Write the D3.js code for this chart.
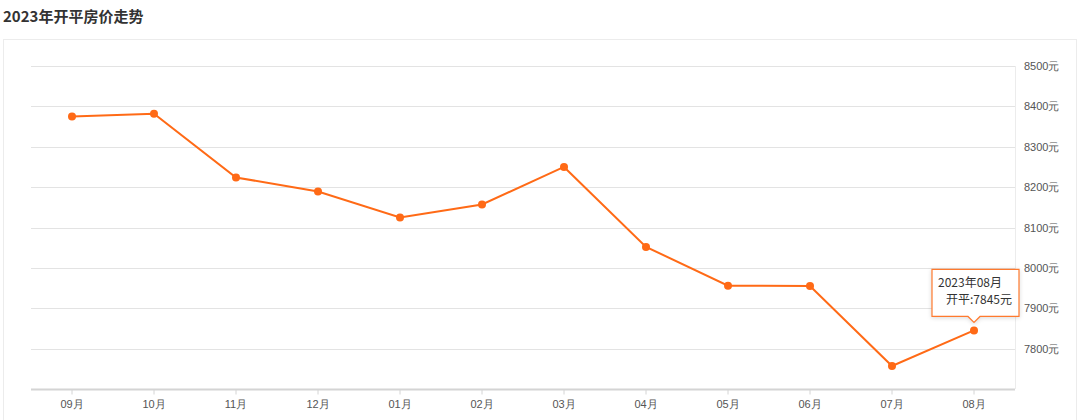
<!DOCTYPE html>
<html><head><meta charset="utf-8">
<script src="https://cdn.jsdelivr.net/npm/d3@7"></script>
<style>
html,body{margin:0;padding:0;background:#fff;}
svg{display:block;font-family:"Noto Sans CJK SC","Noto Sans",sans-serif;}
</style></head>
<body><svg id="c" width="1080" height="420"></svg>
<script>
const title = "2023年开平房价走势";
const months = ["09月","10月","11月","12月","01月","02月","03月","04月","05月","06月","07月","08月"];
const prices = [8375, 8382, 8224, 8189, 8125, 8157, 8250, 8052, 7956, 7955, 7757, 7845];
const yTicks = [7800, 7900, 8000, 8100, 8200, 8300, 8400, 8500];
const tipTitle = "2023年08月";
const tipSeries = "开平";
const unit = "元";

const svg = d3.select("#c");
const mLeft = 31, mRight = 1015, mTop = 66, mBottom = 389;

svg.append("text").attr("x", 3).attr("y", 22).attr("font-size", 15).attr("font-weight", "bold")
  .attr("fill", "#333").text(title);

// panel
svg.append("rect").attr("x", 3.5).attr("y", 39.5).attr("width", 1073).attr("height", 400)
  .attr("fill", "none").attr("stroke", "#ececec");

const x = d3.scaleBand().domain(months).range([mLeft, mRight]);
const y = d3.scaleLinear().domain([7700, 8500]).range([mBottom, mTop]);

// grid
svg.append("g").selectAll("line").data(yTicks).join("line")
  .attr("x1", mLeft).attr("x2", mRight)
  .attr("y1", d => Math.round(y(d)) + 0.5).attr("y2", d => Math.round(y(d)) + 0.5)
  .attr("stroke", "#e3e3e3");
svg.append("line").attr("x1", mRight + 0.5).attr("x2", mRight + 0.5).attr("y1", mTop).attr("y2", mBottom)
  .attr("stroke", "#ececec");

// y axis right
const ya = d3.axisRight(y).tickValues(yTicks).tickSize(0).tickPadding(9).tickFormat(d => d + unit);
const yg = svg.append("g").attr("transform", `translate(${mRight},0)`).call(ya);
yg.select(".domain").remove();
yg.selectAll("text").attr("fill", "#555").attr("font-size", 11);

// x axis
const xa = d3.axisBottom(x).tickSize(5).tickPadding(6);
const xg = svg.append("g").attr("transform", `translate(0,${mBottom + 0.5})`).call(xa);
xg.select(".domain").attr("stroke", "#d4d4d4").attr("stroke-width", 2).attr("d", `M${mLeft},0H${mRight}`);
xg.selectAll(".tick line").attr("stroke", "#d4d4d4");
xg.selectAll("text").attr("fill", "#555").attr("font-size", 11);

const cx = d => x(d) + x.bandwidth() / 2;
const data = months.map((m, i) => ({m, v: prices[i]}));

svg.append("path").datum(data)
  .attr("d", d3.line().x(d => cx(d.m)).y(d => y(d.v)))
  .attr("fill", "none").attr("stroke", "#ff6a16").attr("stroke-width", 2);
svg.append("g").selectAll("circle").data(data).join("circle")
  .attr("cx", d => cx(d.m)).attr("cy", d => y(d.v)).attr("r", 4).attr("fill", "#ff6a16");

// tooltip
const last = data[data.length - 1];
const px = cx(last.m), py = y(last.v);
const bx0 = px - 42, bx1 = px + 45, by0 = py - 61, by1 = py - 14, tip = py - 8;
svg.append("path")
  .attr("d", `M${bx0},${by0}H${bx1}V${by1}H${px + 6}L${px},${tip}L${px - 6},${by1}H${bx0}Z`)
  .attr("fill", "#fff").attr("stroke", "#ff7a2e").attr("stroke-width", 1.2)
  .style("filter", "drop-shadow(0 1px 2px rgba(0,0,0,0.15))");
svg.append("text").attr("x", bx0 + 6).attr("y", by0 + 18).attr("font-size", 12).attr("fill", "#333").text(tipTitle);
svg.append("text").attr("x", bx1 - 7).attr("y", by0 + 35).attr("font-size", 12).attr("fill", "#333")
  .attr("text-anchor", "end").text(tipSeries + ":" + last.v + unit);
</script></body></html>
